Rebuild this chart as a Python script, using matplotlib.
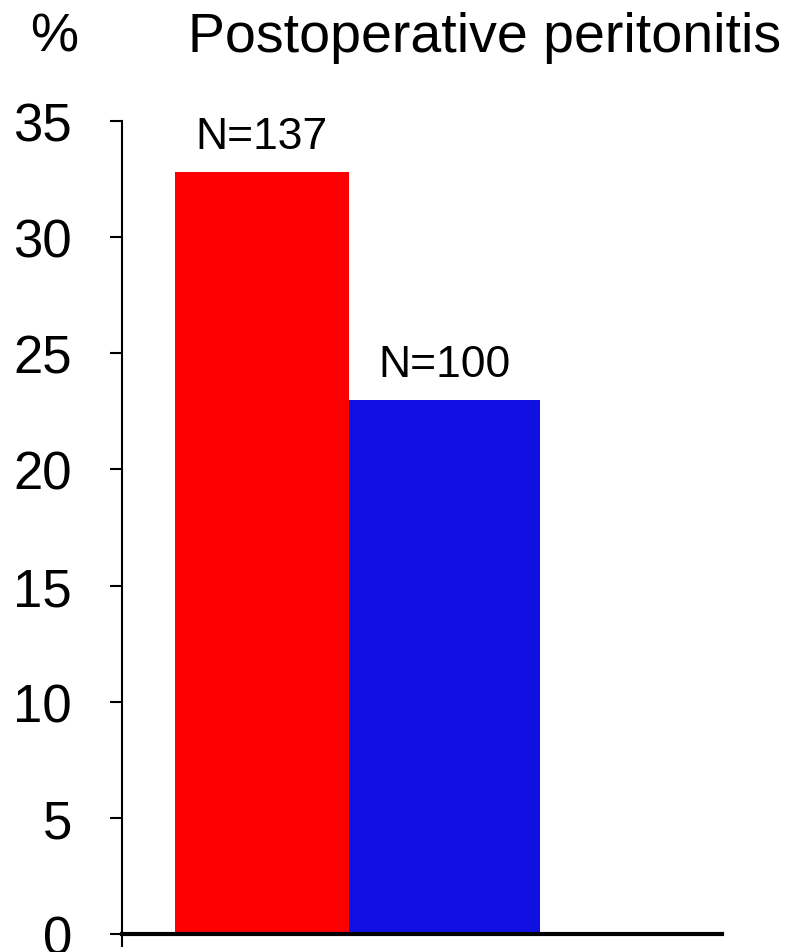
import matplotlib.pyplot as plt

# postoperative peritonitis rate per group (%)
groups = ["Group A", "Group B"]
rates = [32.8, 23.0]
counts = [137, 100]
colors = ["#FF0000", "#1010E3"]

# bar placement along the x axis (axis spans 0..1)
lefts = [0.088, 0.378]
widths = [0.29, 0.318]

plt.rcParams["font.family"] = ["Liberation Sans", "DejaVu Sans"]

fig = plt.figure(figsize=(7.9, 9.53), dpi=100)
ax = fig.add_axes([0.1544, 0.0189, 0.7596, 0.8530])

bars = ax.bar(lefts, rates, width=widths, align="edge", color=colors, zorder=1)

for bar, n in zip(bars, counts):
    ax.annotate(
        f"N={n}",
        (bar.get_x() + bar.get_width() / 2, bar.get_height()),
        xytext=(0, 11),
        textcoords="offset points",
        ha="center",
        va="bottom",
        fontsize=32,
    )

ax.set_xlim(0, 1)
ax.set_ylim(0, 35)
ax.set_yticks(range(0, 36, 5))
ax.set_xticks([0])
ax.set_xticklabels([])
ax.tick_params(axis="y", direction="out", length=9, width=1.5, pad=27, labelsize=38)
ax.tick_params(axis="x", direction="out", length=9, width=1.5)

for side in ("top", "right"):
    ax.spines[side].set_visible(False)
ax.spines["left"].set_linewidth(1.5)
ax.spines["bottom"].set_linewidth(3)
ax.spines["bottom"].set_zorder(3)

fig.text(0.069, 0.961, "%", fontsize=39, ha="center", va="center")
fig.text(0.614, 0.96, "Postoperative peritonitis", fontsize=40, ha="center", va="center")

fig.savefig("out.png", dpi=100)
